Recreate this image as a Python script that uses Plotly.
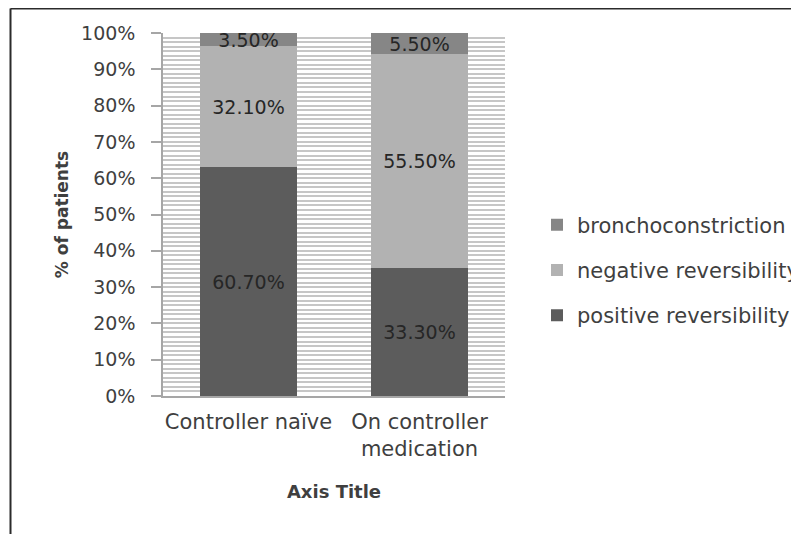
import plotly.graph_objects as go

categories = ["Controller naïve", "On controller<br>medication"]
positive_reversibility = [60.7, 33.3]
negative_reversibility = [32.1, 55.5]
bronchoconstriction = [3.5, 5.5]
y_ticks = [0, 10, 20, 30, 40, 50, 60, 70, 80, 90, 100]

FONT = "DejaVu Sans"
TXT = "#3f3f3f"

series = [
    ("positive reversibility", positive_reversibility, "#5c5c5c", 3),
    ("negative reversibility", negative_reversibility, "#b2b2b2", 2),
    ("bronchoconstriction", bronchoconstriction, "#868686", 1),
]

fig = go.Figure()
for name, vals, col, rank in series:
    fig.add_trace(go.Bar(
        x=categories, y=vals, name=name, legendgroup=name, legendrank=rank,
        marker=dict(color=col, line=dict(width=0)),
        text=[f"{v:.2f}%" for v in vals],
        textposition="inside", insidetextanchor="middle",
        textfont=dict(family=FONT, size=19, color="#262626"),
        hoverinfo="skip",
    ))

# page body has an 8px margin: shift reference pixel coords accordingly
OFF = 8
FW, FH = 799 - OFF, 534 - OFF
# plot area in reference pixels: x 163..505, y 33..396
L, R, T, B = 163 - OFF, 505 - OFF, 33 - OFF, 396 - OFF
W, H = R - L, B - T
def px_x(p):
    return (p - OFF - L) / W
def px_y(p):
    return (B - (p - OFF)) / H

fig.update_layout(
    width=FW, height=FH,
    margin=dict(l=L, r=FW - R, t=T, b=FH - B, autoexpand=False),
    paper_bgcolor="white", plot_bgcolor="white",
    barmode="stack", barnorm="percent", bargap=0.427,
    uniformtext=dict(minsize=19, mode="show"),
    font=dict(family=FONT, color=TXT),
    showlegend=True,
    legend=dict(
        x=px_x(537), xanchor="left", y=px_y(270), yanchor="middle",
        traceorder="grouped", tracegroupgap=15,
        font=dict(family=FONT, size=21, color=TXT),
        bgcolor="rgba(0,0,0,0)",
    ),
    xaxis=dict(
        showline=True, linecolor="#a6a6a6", linewidth=1.5,
        ticks="", showgrid=False,
        tickfont=dict(family=FONT, size=21, color=TXT),
        ticklabelstandoff=6,
        title=dict(text="<b>Axis Title</b>", font=dict(family=FONT, size=18, color=TXT), standoff=25),
        automargin=False,
    ),
    yaxis=dict(
        range=[0, 100], tickvals=y_ticks, ticktext=[f"{v}%" for v in y_ticks],
        showline=True, linecolor="#a6a6a6", linewidth=1.5,
        ticks="outside", ticklen=10, tickcolor="#a6a6a6", tickwidth=1.5,
        tickfont=dict(family=FONT, size=19, color=TXT),
        ticklabelstandoff=12,
        showgrid=True, gridcolor="#c6c6c6", gridwidth=1.8,
        minor=dict(dtick=1.25, showgrid=True, gridcolor="#c6c6c6", gridwidth=1.8, ticks=""),
        zeroline=False,
        title=dict(text="<b>% of patients</b>", font=dict(family=FONT, size=17, color=TXT), standoff=8),
        automargin=False,
    ),
    shapes=[
        dict(type="line", xref="paper", yref="paper",
             x0=px_x(10.5), x1=px_x(800), y0=px_y(8.5), y1=px_y(8.5),
             line=dict(color="#2b2b2b", width=2)),
        dict(type="line", xref="paper", yref="paper",
             x0=px_x(10.5), x1=px_x(10.5), y0=px_y(8.5), y1=px_y(535),
             line=dict(color="#2b2b2b", width=2)),
    ],
)

fig.write_html("out.html")
